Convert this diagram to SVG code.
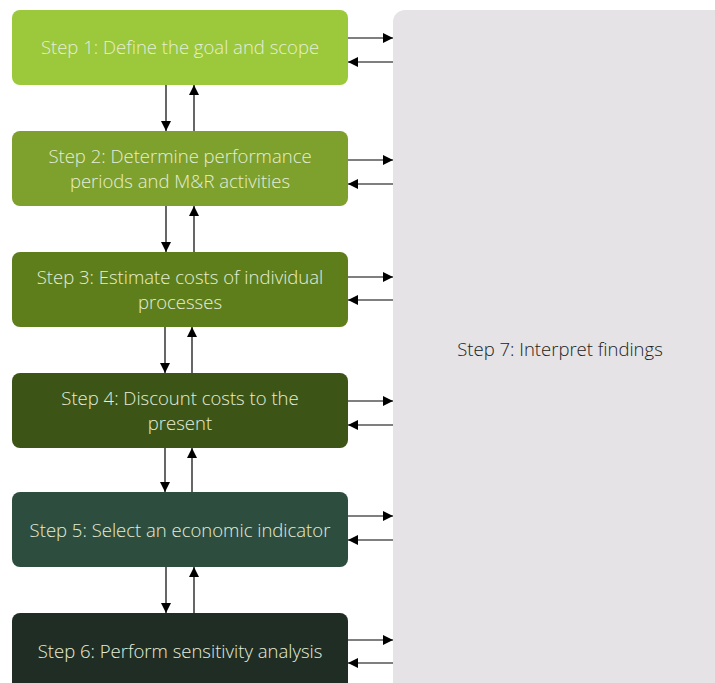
<svg xmlns="http://www.w3.org/2000/svg" width="715" height="683" viewBox="0 0 715 683">
<defs>
<style>
.step text{font-family:"Open Sans","Liberation Sans",sans-serif;font-size:18.5px;font-weight:300;fill:#e6eed8;text-anchor:middle;}
.conn line{stroke:#000;stroke-width:1.2;fill:none;}
.big text{font-family:"Open Sans","Liberation Sans",sans-serif;font-size:18.5px;font-weight:300;fill:#222;text-anchor:middle;}
</style>
<marker id="ah" viewBox="0 0 10 10" refX="10" refY="5" markerWidth="10" markerHeight="10" markerUnits="userSpaceOnUse" orient="auto">
<path d="M0,0 L10,5 L0,10 z" fill="#000"/>
</marker>
</defs>
<rect width="715" height="683" fill="#fff"/>
<g id="step7" class="big">
<rect x="393" y="10" width="340" height="690" rx="12" fill="#e5e3e5"/>
<text x="560" y="356">Step 7: Interpret findings</text>
</g>
<g id="step1" class="step">
<rect x="12" y="10" width="336" height="75" rx="8" fill="#9cc83b"/>
<text x="180" y="54">Step 1: Define the goal and scope</text>
</g>
<g id="step2" class="step">
<rect x="12" y="131" width="336" height="75" rx="8" fill="#7ea02c"/>
<text x="180" y="163">Step 2: Determine performance</text>
<text x="180" y="188">periods and M&amp;R activities</text>
</g>
<g id="step3" class="step">
<rect x="12" y="252" width="336" height="75" rx="8" fill="#5e7e1b"/>
<text x="180" y="284">Step 3: Estimate costs of individual</text>
<text x="180" y="309">processes</text>
</g>
<g id="step4" class="step">
<rect x="12" y="373" width="336" height="75" rx="8" fill="#3c5516"/>
<text x="180" y="405">Step 4: Discount costs to the</text>
<text x="180" y="430">present</text>
</g>
<g id="step5" class="step">
<rect x="12" y="492" width="336" height="75" rx="8" fill="#2d4d3e"/>
<text x="180" y="536.5">Step 5: Select an economic indicator</text>
</g>
<g id="step6" class="step">
<rect x="12" y="613" width="336" height="80" rx="8" fill="#1f2d25"/>
<text x="180" y="657.5">Step 6: Perform sensitivity analysis</text>
</g>
<g id="connectors" class="conn">
<line x1="166" y1="85" x2="166" y2="131" marker-end="url(#ah)"/>
<line x1="194" y1="131" x2="194" y2="85" marker-end="url(#ah)"/>
<line x1="166" y1="206" x2="166" y2="252" marker-end="url(#ah)"/>
<line x1="194" y1="252" x2="194" y2="206" marker-end="url(#ah)"/>
<line x1="165" y1="327" x2="165" y2="373" marker-end="url(#ah)"/>
<line x1="192" y1="373" x2="192" y2="327" marker-end="url(#ah)"/>
<line x1="165" y1="448" x2="165" y2="492" marker-end="url(#ah)"/>
<line x1="192" y1="492" x2="192" y2="448" marker-end="url(#ah)"/>
<line x1="166" y1="567" x2="166" y2="613" marker-end="url(#ah)"/>
<line x1="194" y1="613" x2="194" y2="567" marker-end="url(#ah)"/>
<line x1="348" y1="38" x2="393" y2="38" marker-end="url(#ah)"/>
<line x1="393" y1="62" x2="348" y2="62" marker-end="url(#ah)"/>
<line x1="348" y1="160" x2="393" y2="160" marker-end="url(#ah)"/>
<line x1="393" y1="184" x2="348" y2="184" marker-end="url(#ah)"/>
<line x1="348" y1="277" x2="393" y2="277" marker-end="url(#ah)"/>
<line x1="393" y1="300" x2="348" y2="300" marker-end="url(#ah)"/>
<line x1="348" y1="401" x2="393" y2="401" marker-end="url(#ah)"/>
<line x1="393" y1="425" x2="348" y2="425" marker-end="url(#ah)"/>
<line x1="348" y1="516" x2="393" y2="516" marker-end="url(#ah)"/>
<line x1="393" y1="540" x2="348" y2="540" marker-end="url(#ah)"/>
<line x1="348" y1="640" x2="393" y2="640" marker-end="url(#ah)"/>
<line x1="393" y1="663" x2="348" y2="663" marker-end="url(#ah)"/>
</g>
</svg>
